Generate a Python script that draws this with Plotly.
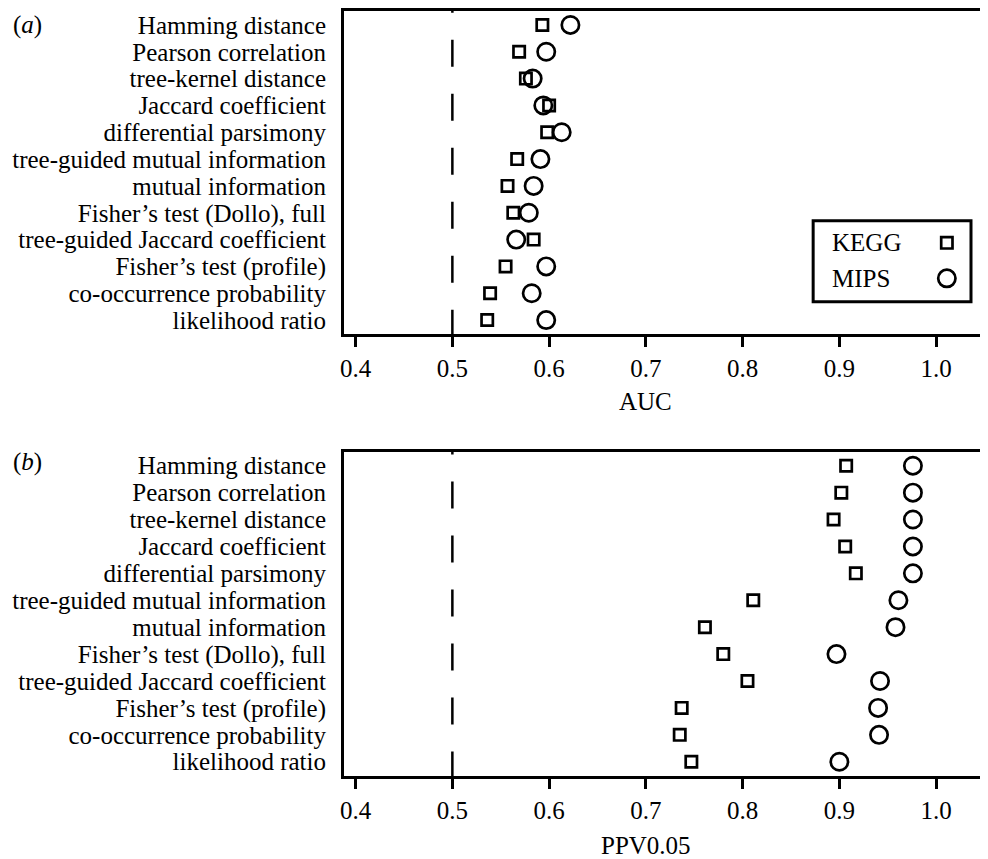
import plotly.graph_objects as go

methods = [
    "Hamming distance",
    "Pearson correlation",
    "tree-kernel distance",
    "Jaccard coefficient",
    "differential parsimony",
    "tree-guided mutual information",
    "mutual information",
    "Fisher\u2019s test (Dollo), full",
    "tree-guided Jaccard coefficient",
    "Fisher\u2019s test (profile)",
    "co-occurrence probability",
    "likelihood ratio",
]
auc_kegg = [0.593, 0.569, 0.576, 0.600, 0.598, 0.567, 0.557, 0.563, 0.584, 0.555, 0.539, 0.536]
auc_mips = [0.622, 0.597, 0.583, 0.594, 0.613, 0.591, 0.584, 0.579, 0.566, 0.597, 0.582, 0.597]
ppv_kegg = [0.907, 0.902, 0.894, 0.906, 0.917, 0.811, 0.761, 0.780, 0.805, 0.737, 0.735, 0.747]
ppv_mips = [0.976, 0.976, 0.976, 0.976, 0.976, 0.961, 0.958, 0.897, 0.942, 0.940, 0.941, 0.900]
x_ticks = [0.4, 0.5, 0.6, 0.7, 0.8, 0.9, 1.0]
x_tick_text = ["0.4", "0.5", "0.6", "0.7", "0.8", "0.9", "1.0"]
series_names = ["KEGG", "MIPS"]
baseline = 0.5

FONT = "Liberation Serif"
FS = 25
n = len(methods)
ypos = list(range(n, 0, -1))  # first method at top

fig = go.Figure()

sq = dict(symbol="square-open", size=11.3, color="black", line=dict(width=2.7, color="black"))
ci = dict(symbol="circle-open", size=17.3, color="black", line=dict(width=2.7, color="black"))

for (k, m, xa, ya) in [(auc_kegg, auc_mips, "x", "y"), (ppv_kegg, ppv_mips, "x2", "y2")]:
    fig.add_trace(go.Scatter(x=k, y=ypos, mode="markers", marker=sq, xaxis=xa, yaxis=ya,
                             showlegend=False, name=series_names[0]))
    fig.add_trace(go.Scatter(x=m, y=ypos, mode="markers", marker=ci, xaxis=xa, yaxis=ya,
                             showlegend=False, name=series_names[1]))

# custom legend (text left, symbol right)
fig.add_trace(go.Scatter(x=[0.847], y=[0.728], mode="markers", marker=sq, xaxis="x3", yaxis="y3",
                         showlegend=False, hoverinfo="skip"))
fig.add_trace(go.Scatter(x=[0.847], y=[0.29], mode="markers", marker=ci, xaxis="x3", yaxis="y3",
                         showlegend=False, hoverinfo="skip"))

xr = [0.388, 1.0536]
yr = [0.47, 12.52]
xcommon = dict(range=xr, tickmode="array", tickvals=x_ticks, ticktext=x_tick_text,
               showline=True, linewidth=3, linecolor="black", mirror=True,
               ticks="outside", ticklen=10, tickwidth=3, tickcolor="black",
               showgrid=False, zeroline=False, tickfont=dict(family=FONT, size=FS, color="black"))
ycommon = dict(range=yr, tickmode="array", tickvals=ypos, ticktext=methods,
               showline=True, linewidth=3, linecolor="black", ticks="",
               showgrid=False, zeroline=False, ticklabelstandoff=10,
               tickfont=dict(family=FONT, size=FS, color="black"))

fig.update_layout(
    width=980, height=851,
    margin=dict(l=335.5, r=0, t=3, b=82.5),
    paper_bgcolor="white", plot_bgcolor="white",
    font=dict(family=FONT, size=FS, color="black"),
    xaxis=dict(domain=[0, 1], anchor="y", **xcommon),
    yaxis=dict(domain=[0.5774, 1], anchor="x", **ycommon),
    xaxis2=dict(domain=[0, 1], anchor="y2", **xcommon),
    yaxis2=dict(domain=[0, 0.4239], anchor="x2", **ycommon),
    xaxis3=dict(domain=[0.7285, 0.9736], range=[0, 1], visible=False, anchor="y3"),
    yaxis3=dict(domain=[0.6199, 0.7257], range=[0, 1], visible=False, anchor="x3"),
    showlegend=False,
)

for xa, ya in [("x", "y"), ("x2", "y2")]:
    fig.add_shape(type="line", xref=xa, yref=ya, x0=baseline, x1=baseline, y0=0.38, y1=yr[1],
                  line=dict(color="black", width=2.5, dash="27px,27px"), layer="below")

fig.add_shape(type="rect", xref="paper", yref="paper", x0=0.7285, x1=0.9736, y0=0.6199, y1=0.7257,
              line=dict(color="black", width=3), fillcolor="rgba(0,0,0,0)")

ann = dict(font=dict(family=FONT, size=FS, color="black"), showarrow=False)
fig.add_annotation(text=series_names[0], xref="x3", yref="y3", x=0.108, y=0.728, xanchor="left", yanchor="middle", **ann)
fig.add_annotation(text=series_names[1], xref="x3", yref="y3", x=0.108, y=0.29, xanchor="left", yanchor="middle", **ann)
fig.add_annotation(text="AUC", xref="x", yref="paper", x=0.7, y=0.4899, xanchor="center", yanchor="middle", **ann)
fig.add_annotation(text="PPV0.05", xref="x2", yref="paper", x=0.7, y=-0.0908, xanchor="center", yanchor="middle", **ann)
fig.add_annotation(text="(<i>a</i>)", xref="paper", yref="paper", x=-0.517, y=1.0, yshift=2, xanchor="left", yanchor="top", **ann)
fig.add_annotation(text="(<i>b</i>)", xref="paper", yref="paper", x=-0.517, y=0.4108, xanchor="left", yanchor="middle", **ann)

fig.write_html("out.html")
